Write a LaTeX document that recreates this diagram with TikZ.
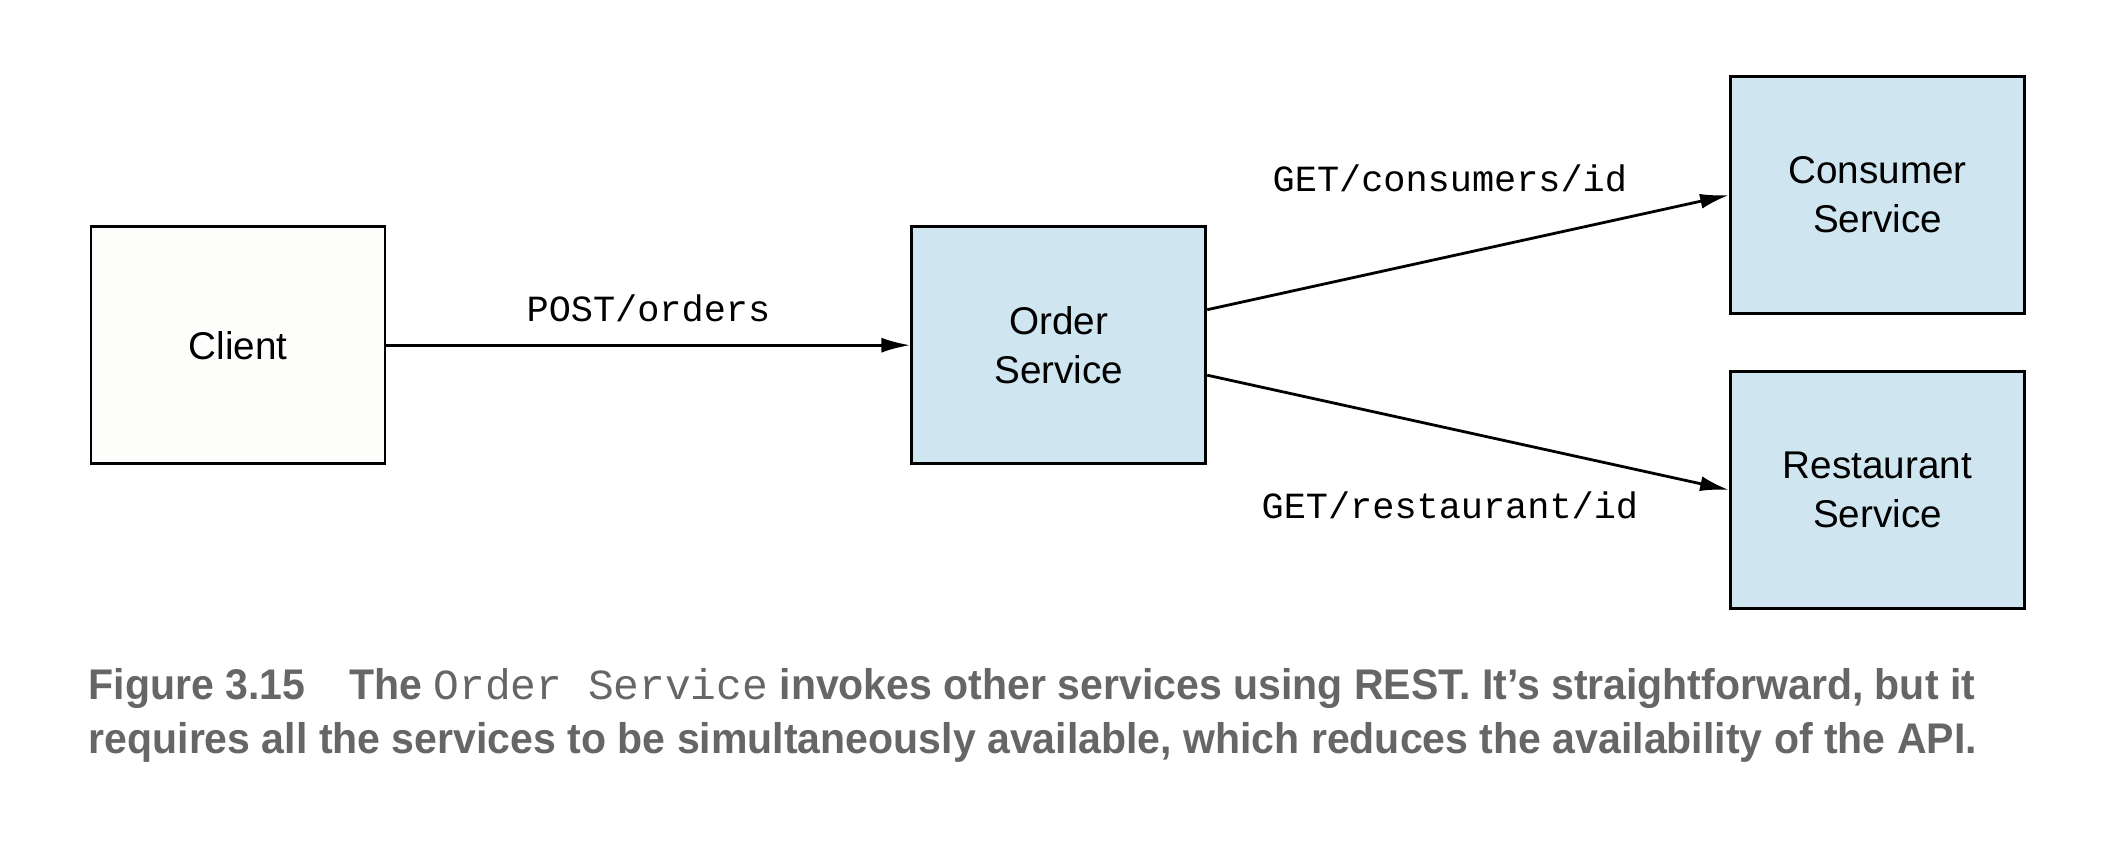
\documentclass[tikz,border=0pt]{standalone}
\usepackage{fontspec}
\setmainfont{Liberation Sans}
\setmonofont{Liberation Mono}
\newfontfamily\capfont[FakeStretch=0.957]{Liberation Sans}
\usetikzlibrary{positioning, arrows.meta}
\usepackage{xcolor}
\definecolor{svcblue}{HTML}{CFE5EF}
\definecolor{clientwhite}{HTML}{FDFDFB}
\definecolor{capgray}{HTML}{666666}
\tikzstyle{arrow} = [thick,-{Latex[length=2.9mm,width=1.5mm]}]

\begin{document}
\begin{tikzpicture}
        [
            box/.style={rectangle,draw=black,thick,fill=svcblue,inner sep=0pt,
                minimum width=2.94cm,minimum height=2.37cm,align=center,
                font=\fontsize{11}{14}\selectfont},
            route/.style={inner sep=0pt,font=\ttfamily\fontsize{10.5}{12}\selectfont},
            caption/.style={anchor=base west,inner sep=0pt,text=capgray,
                font=\capfont\bfseries\fontsize{12.2}{15}\selectfont},
        ]
    \useasboundingbox (0,0) rectangle (21.02,-8.52);

    \node[box,fill=clientwhite] (client) at (2.38,-3.452) {Client};
    \node[box,right=5.24cm of client] (order) {Order\\Service};
    \node[box] (consumer) at (18.775,-1.95) {Consumer\\Service};
    \node[box] (restaurant) at (18.775,-4.9) {Restaurant\\Service};

    \draw[arrow] (client) -- node[route,yshift=3.7mm] (postlbl) {POST/orders} (order);
    \draw[arrow] ([yshift=3.55mm]order.east) -- node[route,pos=0.465,yshift=7.8mm] (conslbl) {GET/consumers/id} (consumer.west);
    \draw[arrow] ([yshift=-3mm]order.east) -- node[route,pos=0.465,yshift=-7.7mm] (restlbl) {GET/restaurant/id} (restaurant.west);

    \node[caption] (cap1) at (0.88,-6.99) {Figure 3.15\hspace*{4.4mm}The {\ttfamily\mdseries Order Service} invokes other services using REST. It’s straightforward, but it};
    \node[caption] (cap2) at (0.88,-7.53) {requires all the services to be simultaneously available, which reduces the availability of the API.};
\end{tikzpicture}
\end{document}
